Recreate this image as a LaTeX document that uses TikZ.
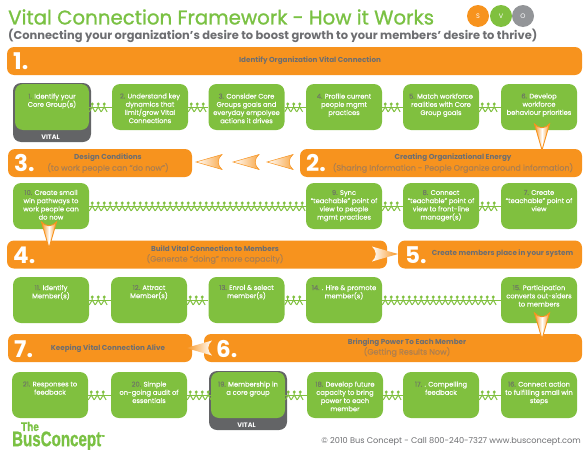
\documentclass[tikz,border=0pt]{standalone}
\usepackage{fontspec}
\setmainfont{Poppins}
\newfontfamily\logofont[BoldFeatures={FakeBold=1.2}]{Liberation Sans}
\newfontfamily\titlefont[FakeBold=1.1]{Poppins}
\newfontfamily\stepfont[FakeBold=0.35]{Poppins}
\usetikzlibrary{decorations.markings}
\definecolor{barorange}{HTML}{F7931E}
\definecolor{boxgreen}{HTML}{80C03F}
\definecolor{titlegreen}{HTML}{7AC143}
\definecolor{textgray}{HTML}{6D6E71}
\definecolor{subtan}{HTML}{AD7F50}
\definecolor{numgray}{HTML}{6F7B62}
\definecolor{vitalgray}{HTML}{636466}
\definecolor{circlegray}{HTML}{939598}
\newcommand{\num}[1]{\textcolor{numgray}{#1}}
\tikzset{
  stepbox/.style={fill=boxgreen, rounded corners=8pt, minimum width=76pt, minimum height=46pt, inner sep=0pt},
  vitalbox/.style={fill=vitalgray, rounded corners=8pt, minimum width=78pt, minimum height=59pt, inner sep=0pt},
  steptext/.style={text=white, font=\stepfont\fontsize{6.7}{8.2}\selectfont, align=center, inner sep=0pt, anchor=north, yshift=#1},
  steptext/.default=-9.5pt,
  vitaltext/.style={text=white, font=\fontsize{6.5}{8}\selectfont\bfseries, inner sep=0pt},
  barbox/.style={fill=barorange, rounded corners=7pt, minimum height=28pt, inner sep=0pt},
  barnum/.style={text=white, font=\fontsize{23}{23}\selectfont\bfseries, inner sep=0pt, anchor=west},
  barhead/.style={text=textgray, font=\fontsize{7.2}{8}\selectfont\bfseries, inner sep=0pt},
  barsub/.style={text=subtan, font=\stepfont\fontsize{8}{9}\selectfont, inner sep=0pt},
  svo/.style={circle, minimum size=22pt, inner sep=0pt, text=white, font=\fontsize{6.5}{8}\selectfont},
  peoplechain/.style={draw=boxgreen, line width=.8pt, postaction={decorate}, decoration={markings,
    mark=between positions 3pt and -2pt step 6pt with {
      \fill[boxgreen] (0,3) circle (1.6);
      \draw[boxgreen, line width=1pt] (0,2) -- (0,0) -- (-2.9,-4.8) (0,0) -- (2.9,-4.8);
    }}},
  funneldown/.style={draw=barorange, line width=.9pt, left color=barorange, right color=barorange, middle color=white},
  funnelleft/.style={draw=barorange, line width=.5pt, left color=white, right color=barorange!80},
  funnelinto/.style={left color=white, right color=barorange},
  funnelback/.style={left color=barorange, right color=white},
  pics/funnel/.style={code={
    \path[#1] (0,0) -- (7.5,26) .. controls (3,21) and (-3,21) .. (-7.5,26) -- cycle;
  }}
}
\begin{document}
\begin{tikzpicture}[x=1pt,y=1pt]
\useasboundingbox (0,-450) rectangle (584,0);
% heading
\node[text=titlegreen, font=\titlefont\fontsize{19.8}{24}\selectfont, inner sep=0pt, anchor=west] (title) at (8,-17) {Vital Connection Framework - How it Works};
\node[text=textgray, font=\fontsize{11.45}{13}\selectfont\bfseries, inner sep=0pt, anchor=west] (subtitle) at (8,-36) {(Connecting your organization's desire to boost growth to your members' desire to thrive)};
\node[svo, fill=barorange] (s) at (478,-16) {S};
\node[svo, fill=circlegray] (o) at (523,-16) {O};
\node[svo, fill=boxgreen] (v) at (501,-16) {V};
% bars
\node[barbox, minimum width=575pt] (bar1) at (294.5,-61) {};
\node[barbox, minimum width=184pt] (bar3) at (100,-163) {};
\node[barbox, minimum width=282pt] (bar2) at (441,-163) {};
\node[barbox, minimum width=380pt] (bar4) at (197,-254.5) {};
\node[barbox, minimum width=184pt] (bar5) at (490,-254.5) {};
\node[barbox, minimum width=184pt] (bar7) at (100,-348) {};
\node[barbox, minimum width=378pt] (bar6) at (393,-348) {};
\node[barnum] (n1) at (13,-61) {1.};
\node[barnum] (n3) at (14,-163) {3.};
\node[barnum] (n2) at (306,-163) {2.};
\node[barnum] (n4) at (13,-255) {4.};
\node[barnum] (n5) at (405,-255) {5.};
\node[barnum] (n7) at (14,-349) {7.};
\node[barnum] (n6) at (216,-349) {6.};
\node[barhead] (h1) at (310,-61) {Identify Organization Vital Connection};
\node[barhead] (h3) at (108,-158) {Design Conditions};
\node[barsub] (s3) at (108,-168) {(to work people can “do now”)};
\node[barhead] (h2) at (453,-158) {Creating Organizational Energy};
\node[barsub] (s2) at (453,-168) {(Sharing Information - People Organize around information)};
\node[barhead] (h4) at (215,-249) {Build Vital Connection to Members};
\node[barsub] (s4) at (215,-259) {(Generate “doing” more capacity)};
\node[barhead] (h5) at (502.5,-254) {Create members place in your system};
\node[barhead] (h7) at (108,-349) {Keeping Vital Connection Alive};
\node[barhead] (h6) at (407,-343) {Bringing Power To Each Member};
\node[barsub] (s6) at (407,-352) {(Getting Results Now)};
% steps
\node[vitalbox] (v1) at (52,-112.5) {};
\node[vitaltext] (vt1) at (50.5,-137) {VITAL};
\node[stepbox, minimum width=74pt, label={[steptext]north:{\num{1.} Identify your\\Core Group(s)}}] (b1) at (52,-107) {};
\node[stepbox, label={[steptext]north:{\num{2.} Understand key\\dynamics that\\limit/grow Vital\\Connections}}] (b2) at (150,-107) {};
\node[stepbox, label={[steptext]north:{\num{3.} Consider Core\\Groups goals and\\everyday empolyee\\actions it drives}}] (b3) at (246.5,-107) {};
\node[stepbox, label={[steptext]north:{\num{4.} Profile current\\people mgmt\\practices}}] (b4) at (344,-107) {};
\node[stepbox, label={[steptext]north:{\num{5.} Match workforce\\realities with Core\\Group goals}}] (b5) at (441,-107) {};
\node[stepbox, label={[steptext]north:{\num{6.} Develop\\workforce\\behaviour priorities}}] (b6) at (539,-107) {};
\node[stepbox, label={[steptext=-7pt]north:{\num{7.} Create\\“teachable” point of\\view}}] (b7) at (539,-206) {};
\node[stepbox, label={[steptext=-7pt]north:{\num{8.} Connect\\“teachable” point of\\view to front-line\\manager(s)}}] (b8) at (441,-206) {};
\node[stepbox, label={[steptext=-7pt]north:{\num{9.} Sync\\“teachable” point of\\view to people\\mgmt practices}}] (b9) at (344,-206) {};
\node[stepbox, label={[steptext=-7pt]north:{\num{10.} Create small\\win pathways to\\work people can\\do now}}] (b10) at (51,-206) {};
\node[stepbox, label={[steptext=-8pt]north:{\num{11.} Identify\\Member(s)}}] (b11) at (51,-300) {};
\node[stepbox, label={[steptext=-8pt]north:{\num{12.} Attract\\Member(s)}}] (b12) at (149,-300) {};
\node[stepbox, label={[steptext=-8pt]north:{\num{13.} Enrol \& select\\member(s)}}] (b13) at (246.5,-300) {};
\node[stepbox, label={[steptext=-8pt]north:{\num{14.} . Hire \& promote\\member(s)}}] (b14) at (344,-300) {};
\node[stepbox, label={[steptext=-8pt]north:{\num{15.} Participation\\converts out-siders\\to members}}] (b15) at (539,-300) {};
\node[stepbox, label={[steptext]north:{\num{16.} Connect action\\to fulfilling small win\\steps}}] (b16) at (539,-395) {};
\node[stepbox, label={[steptext]north:{\num{17.} . Compelling\\feedback}}] (b17) at (441,-395) {};
\node[stepbox, label={[steptext]north:{\num{18.} Develop future\\capacity to bring\\power to each\\member}}] (b18) at (345,-395) {};
\node[vitalbox] (v19) at (248,-400.5) {};
\node[vitaltext] (vt19) at (246.5,-425) {VITAL};
\node[stepbox, minimum width=74pt, label={[steptext]north:{\num{19.} Membership in\\a core group}}] (b19) at (248,-395) {};
\node[stepbox, label={[steptext]north:{\num{20.} Simple\\on-going audit of\\essentials}}] (b20) at (149,-395) {};
\node[stepbox, label={[steptext]north:{\num{21.} Responses to\\feedback}}] (b21) at (50,-395) {};
% chains
\draw[peoplechain] (b1) -- (b2);
\draw[peoplechain] (b2) -- (b3);
\draw[peoplechain] (b3) -- (b4);
\draw[peoplechain] (b4) -- (b5);
\draw[peoplechain] (b5) -- (b6);
\draw[peoplechain] (b10) -- (b9);
\draw[peoplechain] (b9) -- (b8);
\draw[peoplechain] (b8) -- (b7);
\draw[peoplechain] (b11) -- (b12);
\draw[peoplechain] (b12) -- (b13);
\draw[peoplechain] (b13) -- (b14);
\draw[peoplechain] (b14) -- (b15);
\draw[peoplechain] (b21) -- (b20);
\draw[peoplechain] (b20) -- (b19);
\draw[peoplechain] (b19) -- (b18);
\draw[peoplechain] (b18) -- (b17);
\draw[peoplechain] (b17) -- (b16);
% funnels
\pic at (542,-150) {funnel=funneldown};
\pic at (49,-248) {funnel=funneldown};
\pic at (542,-339) {funnel=funneldown};
\pic[rotate=-90] at (196,-162) {funnel=funnelleft};
\pic[rotate=-90] at (233,-162) {funnel=funnelleft};
\pic[rotate=-90] at (267,-162) {funnel=funnelleft};
\pic[rotate=90] at (398,-254) {funnel=funnelinto};
\pic[rotate=-90] at (186,-348) {funnel=funnelback};
% logo and footer
\node[text=titlegreen, font=\logofont\fontsize{12.5}{13}\selectfont\bfseries, inner sep=0pt, xscale=.8] (the) at (30,-426.5) {The};
\node[text=titlegreen, font=\logofont\fontsize{21}{21}\selectfont\bfseries, inner sep=0pt, anchor=west, xscale=.72] (logo) at (12,-441) {BusConcept\smash{\textsuperscript{\tiny ™}}};
\node[text=textgray, font=\fontsize{8.2}{10}\selectfont, inner sep=0pt, anchor=east] (footer) at (581,-442) {© 2010 Bus Concept - Call 800-240-7327 www.busconcept.com};
\end{tikzpicture}
\end{document}
